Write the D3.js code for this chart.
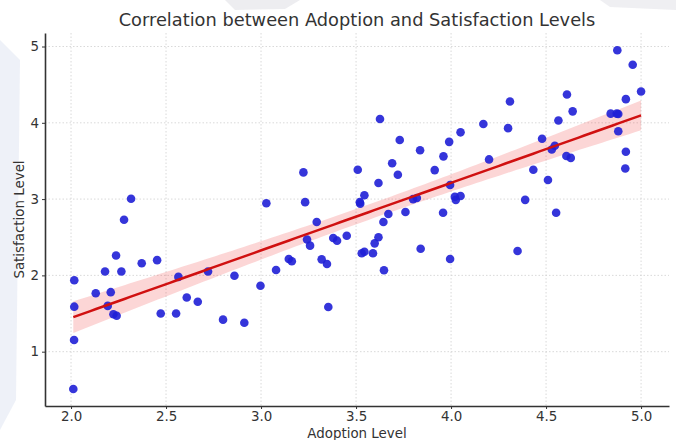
<!DOCTYPE html>
<html>
<head>
<meta charset="utf-8">
<style>
  body { margin: 0; background: #fff; font-family: "DejaVu Sans", sans-serif; }
  svg { display: block; }
</style>
<title>Correlation between Adoption and Satisfaction Levels</title>
</head>
<body>
<div id="chart"></div>
<script src="https://cdn.jsdelivr.net/npm/d3@7"></script>
<script>
// data
var adoption = [2.017, 2.017, 2.016, 2.012, 2.13, 2.179, 2.193, 2.209, 2.223, 2.24,
  2.237, 2.265, 2.279, 2.316, 2.372, 2.453, 2.472, 2.553, 2.565, 2.609,
  2.667, 2.721, 2.80, 2.912, 2.86, 2.997, 3.028, 3.079, 3.146, 3.162,
  3.223, 3.232, 3.242, 3.258, 3.293, 3.319, 3.347, 3.354, 3.38, 3.40,
  3.451, 3.509, 3.52, 3.522, 3.544, 3.53, 3.544, 3.589, 3.598, 3.618,
  3.626, 3.618, 3.647, 3.644, 3.67, 3.69, 3.72, 3.73, 3.76, 3.80,
  3.82, 3.84, 3.837, 3.914, 3.958, 3.96, 3.99, 3.995, 3.995, 4.025,
  4.02, 4.05, 4.05, 4.17, 4.20, 4.30, 4.31, 4.35, 4.39, 4.433,
  4.479, 4.51, 4.53, 4.546, 4.553, 4.565, 4.61, 4.64, 4.607, 4.63,
  4.84, 4.872, 4.88, 4.875, 4.88, 4.92, 4.92, 4.917, 4.956, 5.0];
var satisfaction = [1.936, 1.59, 1.153, 0.51, 1.765, 2.05, 1.60, 1.78, 1.49, 1.47,
  2.26, 2.05, 2.73, 3.005, 2.16, 2.20, 1.50, 1.50, 1.98, 1.71,
  1.655, 2.05, 1.42, 1.38, 1.996, 1.865, 2.945, 2.07, 2.215, 2.185,
  3.35, 2.96, 2.47, 2.39, 2.70, 2.21, 2.15, 1.586, 2.49, 2.455,
  2.52, 3.385, 2.96, 2.94, 3.05, 2.29, 2.31, 2.29, 2.42, 3.21,
  4.05, 2.50, 2.067, 2.70, 2.805, 3.47, 3.32, 3.775, 2.83, 3.0,
  3.015, 2.35, 3.64, 3.38, 2.82, 3.56, 3.75, 3.185, 2.215, 2.99,
  3.03, 3.04, 3.875, 3.985, 3.52, 3.93, 4.28, 2.32, 2.99, 3.385,
  3.79, 3.25, 3.65, 3.70, 2.82, 4.03, 4.37, 4.15, 3.565, 3.54,
  4.12, 4.12, 4.115, 4.95, 3.89, 4.31, 3.62, 3.40, 4.76, 4.41];
var xTicks = [2.0, 2.5, 3.0, 3.5, 4.0, 4.5, 5.0];
var yTicks = [1, 2, 3, 4, 5];

var width = 676, height = 440;
var margin = {top: 33, right: 7, bottom: 34, left: 45};

var svg = d3.select("#chart").append("svg")
  .attr("width", width)
  .attr("height", height);

// faint background decoration
var deco = svg.append("g");
deco.append("path")
  .attr("d", "M0,40 L20,60 L16,400 L0,430 Z")
  .style("fill", "#e3e7f4").style("opacity", 0.6);
deco.append("path")
  .attr("d", "M225,0 L300,0 L285,9 L235,10 Z")
  .style("fill", "#e6e6ea").style("opacity", 0.7);
deco.append("path")
  .attr("d", "M600,0 L676,0 L676,10 L610,7 Z")
  .style("fill", "#e8e8ec").style("opacity", 0.7);

var x = d3.scaleLinear().domain([1.863, 5.147]).range([margin.left, width - margin.right]);
var y = d3.scaleLinear().domain([0.288, 5.177]).range([height - margin.bottom, margin.top]);

// grid
var grid = svg.append("g");
grid.selectAll(".gx").data(xTicks).enter().append("line")
  .attr("x1", d => x(d)).attr("x2", d => x(d))
  .attr("y1", margin.top).attr("y2", height - margin.bottom)
  .style("stroke", "#cfcfcf").style("stroke-width", 0.8).style("stroke-dasharray", "1.5,2");
grid.selectAll(".gy").data(yTicks).enter().append("line")
  .attr("x1", margin.left).attr("x2", width - margin.right)
  .attr("y1", d => y(d)).attr("y2", d => y(d))
  .style("stroke", "#cfcfcf").style("stroke-width", 0.8).style("stroke-dasharray", "1.5,2");

// regression fit and 95% band
var n = adoption.length;
var mx = d3.mean(adoption), my = d3.mean(satisfaction);
var sxx = 0, sxy = 0;
for (var i = 0; i < n; i++) {
  sxx += (adoption[i] - mx) * (adoption[i] - mx);
  sxy += (adoption[i] - mx) * (satisfaction[i] - my);
}
var slope = sxy / sxx, intercept = my - slope * mx;
var sse = 0;
for (var i = 0; i < n; i++) {
  var r = satisfaction[i] - (intercept + slope * adoption[i]);
  sse += r * r;
}
var s = Math.sqrt(sse / (n - 2));
var xmin = d3.min(adoption), xmax = d3.max(adoption);
var fit = d3.range(0, 101).map(function(k) {
  var xv = xmin + (xmax - xmin) * k / 100;
  var yv = intercept + slope * xv;
  var se = s * Math.sqrt(1 / n + (xv - mx) * (xv - mx) / sxx);
  return {x: xv, y: yv, lo: yv - 1.984 * se, hi: yv + 1.984 * se};
});

svg.append("path")
  .datum(fit)
  .attr("d", d3.area().x(d => x(d.x)).y0(d => y(d.lo)).y1(d => y(d.hi)))
  .style("fill", "#f03030").style("opacity", 0.2);

// points
svg.append("g").selectAll("circle")
  .data(adoption.map((d, i) => [d, satisfaction[i]]))
  .enter().append("circle")
  .attr("cx", d => x(d[0]))
  .attr("cy", d => y(d[1]))
  .attr("r", 4.3)
  .style("fill", "#1f1fd6")
  .style("opacity", 0.9);

svg.append("path")
  .datum(fit)
  .attr("d", d3.line().x(d => x(d.x)).y(d => y(d.y)))
  .style("fill", "none").style("stroke", "#d01010").style("stroke-width", 2.5);

// axes
var xAxis = svg.append("g")
  .attr("transform", "translate(0," + (height - margin.bottom) + ")")
  .call(d3.axisBottom(x).tickValues(xTicks).tickFormat(d3.format(".1f")).tickSize(3).tickSizeOuter(0));
var yAxis = svg.append("g")
  .attr("transform", "translate(" + margin.left + ",0)")
  .call(d3.axisLeft(y).tickValues(yTicks).tickFormat(d3.format("d")).tickSize(3).tickSizeOuter(0));

[xAxis, yAxis].forEach(function(a) {
  a.select(".domain").style("stroke", "#333").style("stroke-width", 1.6);
  a.selectAll(".tick line").style("stroke", "#333");
  a.selectAll(".tick text")
    .style("font-family", "DejaVu Sans, sans-serif")
    .style("font-size", "13.4px")
    .style("fill", "#333");
});
xAxis.selectAll(".tick text").attr("y", 5);

// title and labels
svg.append("text")
  .attr("x", (margin.left + width - margin.right) / 2)
  .attr("y", 26)
  .attr("text-anchor", "middle")
  .style("font-size", "17.8px")
  .style("fill", "#333")
  .text("Correlation between Adoption and Satisfaction Levels");

svg.append("text")
  .attr("x", (margin.left + width - margin.right) / 2)
  .attr("y", 438)
  .attr("text-anchor", "middle")
  .style("font-size", "13.4px")
  .style("fill", "#333")
  .text("Adoption Level");

svg.append("text")
  .attr("transform", "translate(24," + ((margin.top + height - margin.bottom) / 2) + ") rotate(-90)")
  .attr("text-anchor", "middle")
  .style("font-size", "13.4px")
  .style("fill", "#333")
  .text("Satisfaction Level");
</script>
</body>
</html>
